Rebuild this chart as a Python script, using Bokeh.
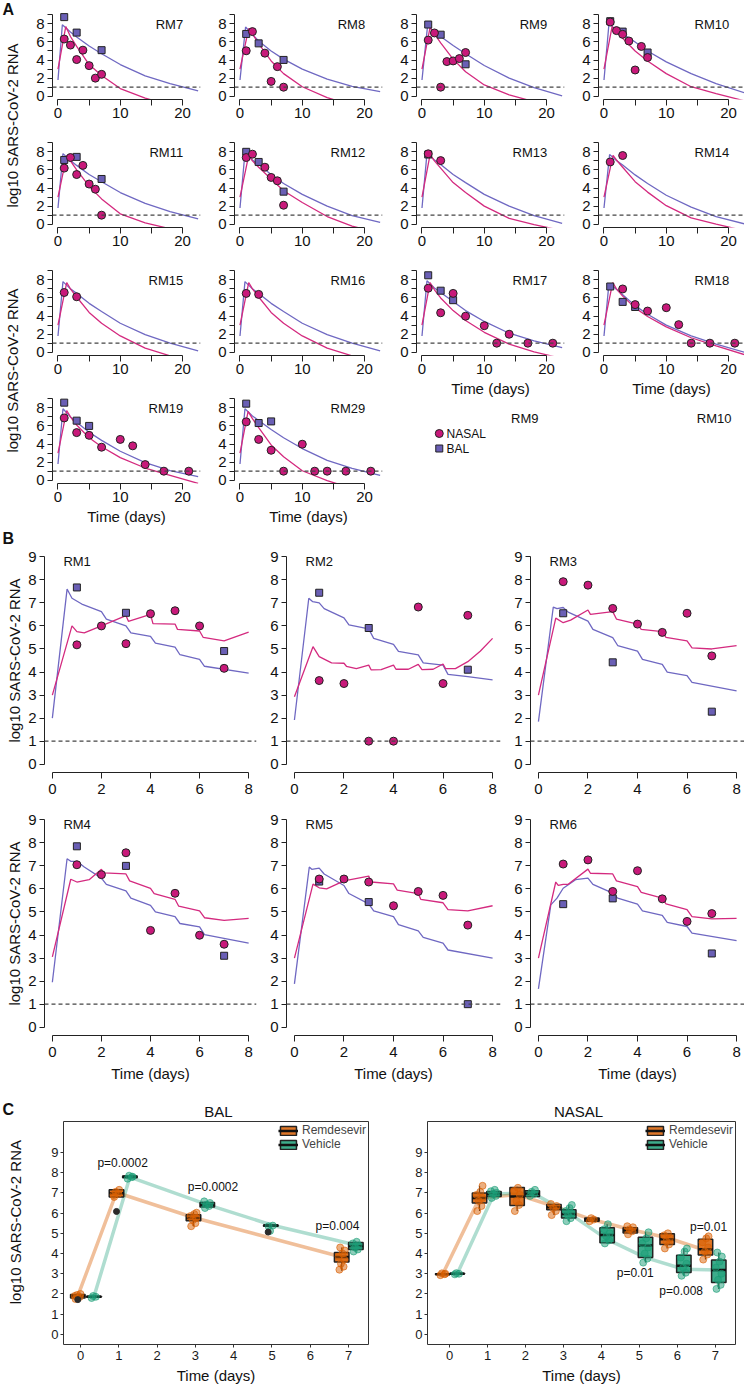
import math
from bokeh.plotting import figure
from bokeh.layouts import row, column
from bokeh.models import Range1d, FixedTicker, Span, Legend, LegendItem
from bokeh.core.properties import value
from bokeh.embed import file_html
from bokeh.resources import INLINE

FONT = "Liberation Sans"
NASAL_FILL = "#C8197A"
BAL_FILL = "#6A5FB5"
NASAL_LINE = "#D42A7F"
BAL_LINE = "#6F68C2"
EDGE = "#222222"
REM = "#D95F02"
VEH = "#1B9E77"

# ---------------- Panel A data ----------------
A_grid = [["RM7", "RM8", "RM9", "RM10"],
          ["RM11", "RM12", "RM13", "RM14"],
          ["RM15", "RM16", "RM17", "RM18"],
          ["RM19", "RM29", None, None]]

A_nasal_days = {
    "RM7": [1, 2, 3, 4, 5, 6, 7], "RM8": [1, 2, 4, 5, 6, 7], "RM9": [1, 2, 3, 4, 5, 6, 7],
    "RM10": [1, 2, 3, 4, 5, 6, 7], "RM11": [1, 2, 3, 4, 5, 6, 7], "RM12": [1, 2, 4, 5, 6, 7],
    "RM13": [1, 3], "RM14": [1, 3], "RM15": [1, 3], "RM16": [1, 3],
    "RM17": [1, 3, 5, 7, 10, 12, 14, 17, 21], "RM18": [3, 5, 7, 10, 12, 14, 17, 21],
    "RM19": [1, 3, 5, 7, 10, 12, 14, 17, 21], "RM29": [1, 3, 5, 7, 10, 12, 14, 17, 21]}
A_nasal_vals = {
    "RM7": [6.32, 5.65, 4.05, 5.09, 3.38, 2.0, 2.42],
    "RM8": [5.02, 7.14, 4.76, 1.64, 3.27, 1.0],
    "RM9": [6.2, 6.99, 1.0, 3.83, 3.9, 4.16, 4.83],
    "RM10": [8.2, 7.25, 6.84, 6.1, 2.9, 5.5, 4.28],
    "RM11": [6.2, 7.37, 5.49, 6.5, 4.44, 3.87, 1.0],
    "RM12": [7.37, 7.74, 6.3, 5.17, 4.8, 2.1],
    "RM13": [7.78, 7.03], "RM14": [6.88, 7.59], "RM15": [6.6, 6.13], "RM16": [6.5, 6.39],
    "RM17": [7.07, 4.36, 6.5, 3.98, 2.93, 1.0, 1.99, 1.0, 1.0],
    "RM18": [6.99, 5.26, 4.55, 4.92, 3.05, 1.0, 1.0, 1.0],
    "RM19": [6.88, 5.26, 4.96, 3.65, 4.51, 3.8, 1.73, 1.0, 1.0],
    "RM29": [6.45, 4.51, 3.31, 1.0, 3.98, 1.0, 1.0, 1.0, 1.0]}
A_bal_days = {
    "RM7": [1, 3, 7], "RM8": [1, 3, 7], "RM9": [1, 3, 7], "RM10": [1, 3, 7],
    "RM11": [1, 3, 7], "RM12": [1, 3, 7], "RM13": [1], "RM14": [], "RM15": [], "RM16": [],
    "RM17": [1, 3, 5], "RM18": [1, 3, 5], "RM19": [1, 3, 5], "RM29": [1, 3, 5]}
A_bal_vals = {
    "RM7": [8.74, 7.03, 5.09], "RM8": [6.88, 5.84, 4.01], "RM9": [7.92, 6.8, 3.53],
    "RM10": [8.29, 7.14, 4.83], "RM11": [7.1, 7.44, 5.0], "RM12": [8.0, 6.88, 3.6],
    "RM13": [7.7], "RM14": [], "RM15": [], "RM16": [],
    "RM17": [8.5, 6.8, 5.75], "RM18": [7.26, 5.56, 5.0], "RM19": [8.57, 6.58, 6.0],
    "RM29": [8.46, 6.32, 6.5]}

A_bal_curve_t = {
    "RM7": [0, 0.7, 2, 3, 5, 7, 10, 14, 18, 22.5], "RM8": [0, 0.9, 2, 3, 5, 7, 10, 14, 18, 22.5],
    "RM9": [0, 0.9, 2, 3, 5, 7, 10, 14, 18, 22.5], "RM10": [0, 0.8, 2, 3, 5, 7, 10, 14, 18, 22.5],
    "RM11": [0, 0.8, 2, 3, 5, 7, 10, 14, 18, 22.5], "RM12": [0, 0.8, 2, 3, 5, 7, 10, 14, 18, 22.5],
    "RM13": [0, 0.8, 2, 3, 5, 7, 10, 14, 18, 22.5], "RM14": [0, 0.9, 2, 3, 5, 7, 10, 14, 18, 22.5],
    "RM15": [0, 0.8, 2, 3, 5, 7, 10, 14, 18, 22.5], "RM16": [0, 0.8, 2, 3, 5, 7, 10, 14, 18, 22.5],
    "RM17": [0, 0.8, 2, 3, 5, 7, 10, 14, 18, 22.5], "RM18": [0, 0.8, 2, 3, 5, 7, 10, 14, 18, 22.5],
    "RM19": [0, 0.8, 2, 3, 5, 7, 10, 14, 18, 22.5], "RM29": [0, 0.8, 2, 3, 5, 7, 10, 14, 18, 22.5]}
A_bal_curve_v = {
    "RM7": [1.8, 7.9, 7.1, 6.55, 5.55, 4.7, 3.5, 2.25, 1.4, 0.6],
    "RM8": [1.8, 7.65, 6.8, 6.1, 5.0, 4.1, 3.0, 1.9, 1.1, 0.5],
    "RM9": [1.8, 7.8, 7.1, 6.6, 5.6, 4.7, 3.4, 2.0, 0.95, 0.05],
    "RM10": [1.8, 8.0, 7.3, 6.9, 6.0, 5.0, 3.8, 2.5, 1.4, 0.4],
    "RM11": [1.8, 7.8, 7.05, 6.5, 5.5, 4.7, 3.5, 2.3, 1.4, 0.6],
    "RM12": [1.8, 7.9, 7.1, 6.6, 5.5, 4.5, 3.3, 2.0, 0.95, 0.2],
    "RM13": [1.8, 7.8, 7.1, 6.6, 5.5, 4.6, 3.3, 2.0, 0.95, 0.1],
    "RM14": [1.8, 7.7, 7.05, 6.55, 5.45, 4.5, 3.2, 1.9, 0.85, 0.05],
    "RM15": [1.8, 7.8, 7.0, 6.5, 5.4, 4.5, 3.2, 1.95, 1.0, 0.15],
    "RM16": [1.8, 7.8, 7.0, 6.5, 5.4, 4.5, 3.2, 1.95, 1.0, 0.15],
    "RM17": [1.8, 7.9, 7.1, 6.6, 5.6, 4.6, 3.4, 2.1, 1.25, 0.5],
    "RM18": [1.8, 7.6, 6.95, 6.35, 5.15, 4.2, 3.0, 1.8, 0.9, 0.0],
    "RM19": [1.8, 7.9, 7.0, 6.4, 5.3, 4.4, 3.2, 1.95, 1.05, 0.4],
    "RM29": [1.8, 7.9, 7.1, 6.6, 5.6, 4.7, 3.5, 2.2, 1.3, 0.55]}
A_nasal_curve_t = {
    "RM7": [0, 1.25, 2, 3, 5, 7, 10, 14, 18, 22.5], "RM8": [0, 1.4, 2, 3, 5, 7, 10, 14, 18, 22.5],
    "RM9": [0, 1.3, 2, 3, 5, 7, 10, 14, 18, 22.5], "RM10": [0, 1.3, 2, 3, 5, 7, 10, 14, 18, 22.5],
    "RM11": [0, 1.4, 2, 3, 5, 7, 10, 14, 18, 22.5], "RM12": [0, 1.4, 2, 3, 5, 7, 10, 14, 18, 22.5],
    "RM13": [0, 1.3, 2, 3, 5, 7, 10, 14, 18, 22.5], "RM14": [0, 1.45, 2, 3, 5, 7, 10, 14, 18, 22.5],
    "RM15": [0, 1.4, 2, 3, 5, 7, 10, 14, 18, 22.5], "RM16": [0, 1.4, 2, 3, 5, 7, 10, 14, 18, 22.5],
    "RM17": [0, 1.3, 2, 3, 5, 7, 10, 14, 18, 22.5], "RM18": [0, 1.4, 2, 3, 5, 7, 10, 14, 18, 22.5],
    "RM19": [0, 1.4, 2, 3, 5, 7, 10, 14, 18, 22.5], "RM29": [0, 1.3, 2, 3, 5, 7, 10, 14, 18, 22.5]}
A_nasal_curve_v = {
    "RM7": [3.0, 7.7, 6.6, 5.5, 3.5, 2.3, 0.85, -0.2, -1.0, -1.6],
    "RM8": [3.0, 7.5, 6.9, 5.8, 3.9, 2.5, 1.05, -0.15, -1.0, -1.6],
    "RM9": [3.0, 7.6, 6.9, 5.9, 4.1, 2.7, 1.25, 0.15, -0.6, -1.3],
    "RM10": [3.0, 7.7, 7.1, 6.4, 5.0, 3.9, 2.5, 1.05, 0.3, -0.5],
    "RM11": [3.0, 7.6, 7.0, 6.0, 4.2, 2.8, 1.15, 0.15, -0.5, -1.2],
    "RM12": [3.0, 7.6, 7.0, 6.3, 5.0, 3.7, 2.4, 0.85, -0.2, -1.0],
    "RM13": [3.0, 7.7, 7.0, 6.2, 4.6, 3.5, 2.0, 0.65, -0.05, -0.7],
    "RM14": [3.0, 7.6, 7.1, 6.3, 4.7, 3.55, 2.05, 0.7, 0.0, -0.7],
    "RM15": [3.0, 7.7, 7.0, 6.1, 4.4, 3.2, 1.8, 0.45, -0.4, -1.1],
    "RM16": [3.0, 7.7, 7.0, 6.1, 4.4, 3.2, 1.8, 0.45, -0.4, -1.1],
    "RM17": [3.0, 7.7, 6.9, 6.0, 4.6, 3.5, 2.2, 0.9, 0.05, -0.7],
    "RM18": [3.0, 7.7, 7.0, 6.2, 4.9, 3.95, 2.8, 1.6, 0.7, -0.25],
    "RM19": [3.0, 7.7, 7.0, 6.1, 4.7, 3.7, 2.5, 1.35, 0.55, -0.35],
    "RM29": [3.0, 7.6, 6.8, 5.8, 3.9, 2.6, 1.05, -0.05, -0.9, -1.6]}

# ---------------- Panel B data ----------------
B_grid = [["RM1", "RM2", "RM3"], ["RM4", "RM5", "RM6"]]
B_nasal_days = [1, 2, 3, 4, 5, 6, 7]
B_bal_days = [1, 3, 7]
B_nasal_vals = {
    "RM1": [5.18, 6.0, 5.23, 6.53, 6.66, 6.0, 4.16],
    "RM2": [3.63, 3.5, 1.0, 1.0, 6.82, 3.5, 6.46],
    "RM3": [7.92, 7.77, 6.76, 6.08, 5.72, 6.55, 4.7],
    "RM4": [7.05, 6.62, 7.57, 4.2, 5.81, 3.99, 3.6],
    "RM5": [6.43, 6.43, 6.3, 5.27, 5.89, 5.72, 4.43],
    "RM6": [7.08, 7.26, 5.89, 6.79, 5.57, 4.59, 4.93]}
B_bal_vals = {
    "RM1": [7.67, 6.57, 4.91], "RM2": [7.44, 5.91, 4.1], "RM3": [6.55, 4.42, 2.28],
    "RM4": [7.85, 7.0, 3.1], "RM5": [6.32, 5.43, 1.0], "RM6": [5.34, 5.59, 3.2]}
B_bal_curve_t = {
    "RM1": [0, 0.6, 0.8, 1.2, 2.0, 2.2, 3.0, 3.2, 4.0, 4.2, 5.0, 5.2, 6.0, 6.2, 8.0],
    "RM2": [0, 0.58, 0.74, 1.0, 1.2, 2.0, 2.2, 3.0, 3.2, 4.0, 4.2, 5.0, 5.2, 6.0, 6.2, 7.0, 8.0],
    "RM3": [0, 0.6, 0.75, 1.0, 1.2, 2.0, 2.2, 3.0, 3.2, 4.0, 4.2, 5.0, 5.2, 6.0, 6.2, 8.0],
    "RM4": [0, 0.6, 0.75, 1.0, 1.3, 2.0, 2.2, 3.0, 3.2, 4.0, 4.2, 5.0, 5.2, 6.0, 6.2, 8.0],
    "RM5": [0, 0.6, 0.7, 1.0, 1.2, 2.0, 2.2, 3.0, 3.2, 4.0, 4.2, 5.0, 5.2, 6.0, 6.2, 8.0],
    "RM6": [0, 0.5, 0.75, 1.0, 1.5, 2.0, 2.2, 3.0, 3.2, 4.0, 4.2, 5.0, 5.2, 6.0, 6.2, 8.0]}
B_bal_curve_v = {
    "RM1": [2.0, 7.6, 7.2, 6.95, 6.62, 6.3, 6.0, 5.7, 5.55, 5.25, 5.08, 4.75, 4.55, 4.25, 3.95],
    "RM2": [1.92, 7.2, 7.05, 7.0, 6.75, 6.35, 6.05, 5.87, 5.46, 5.2, 4.9, 4.74, 4.4, 4.3, 3.9, 3.8, 3.66],
    "RM3": [1.85, 6.82, 6.75, 6.8, 6.6, 6.21, 5.85, 5.49, 5.15, 4.91, 4.55, 4.33, 4.0, 3.84, 3.55, 3.18],
    "RM4": [1.95, 7.31, 7.2, 7.2, 6.95, 6.47, 6.2, 5.92, 5.6, 5.29, 5.0, 4.8, 4.5, 4.35, 4.02, 3.65],
    "RM5": [1.88, 6.95, 6.85, 6.9, 6.65, 6.15, 5.8, 5.35, 5.05, 4.8, 4.45, 4.18, 3.9, 3.65, 3.35, 3.0],
    "RM6": [1.66, 5.31, 5.6, 6.03, 6.4, 6.47, 6.2, 5.82, 5.6, 5.34, 5.05, 4.85, 4.55, 4.37, 4.08, 3.76]}
B_nasal_curve_t = {
    "RM1": [0, 0.8, 1.0, 1.3, 2.0, 3.0, 3.1, 4.0, 4.1, 5.0, 5.1, 6.0, 6.15, 7.0, 8.0],
    "RM2": [0, 0.75, 1.0, 1.5, 2.0, 2.1, 2.5, 3.0, 3.1, 3.5, 4.0, 4.1, 4.6, 5.0, 5.15, 5.6, 6.0, 6.1,
            6.5, 7.0, 7.5, 8.0],
    "RM3": [0, 0.7, 1.0, 1.3, 2.0, 2.1, 3.0, 3.15, 4.0, 4.15, 5.0, 5.15, 6.0, 6.2, 7.0, 8.0],
    "RM4": [0, 0.75, 1.0, 1.5, 2.0, 2.1, 3.0, 3.15, 4.0, 4.15, 5.0, 5.15, 6.0, 6.2, 7.0, 8.0],
    "RM5": [0, 0.75, 1.0, 1.3, 2.0, 3.0, 3.1, 4.0, 4.15, 5.0, 5.1, 6.0, 6.2, 7.0, 8.0],
    "RM6": [0, 0.7, 0.8, 1.0, 1.2, 2.0, 2.1, 3.0, 3.15, 4.0, 4.15, 5.0, 5.15, 6.0, 6.2, 7.0, 8.0]}
B_nasal_curve_v = {
    "RM1": [3.0, 6.0, 5.75, 5.7, 6.0, 6.45, 6.2, 6.5, 6.1, 6.08, 5.85, 5.78, 5.5, 5.35, 5.73],
    "RM2": [2.93, 5.1, 4.67, 4.4, 4.38, 4.25, 4.15, 4.3, 4.09, 4.1, 4.3, 4.12, 4.12, 4.33, 4.1, 4.12,
            4.35, 4.15, 4.15, 4.45, 4.9, 5.46],
    "RM3": [3.0, 6.34, 6.14, 6.25, 6.69, 6.5, 6.62, 6.3, 6.08, 5.85, 5.75, 5.5, 5.35, 5.05, 5.0, 5.15],
    "RM4": [3.05, 6.42, 6.3, 6.4, 6.85, 6.7, 6.65, 6.35, 6.02, 5.8, 5.55, 5.25, 5.05, 4.75, 4.64, 4.72],
    "RM5": [3.0, 6.21, 6.05, 6.0, 6.35, 6.56, 6.3, 6.22, 5.95, 5.8, 5.55, 5.4, 5.1, 5.05, 5.27],
    "RM6": [3.0, 6.3, 6.15, 6.2, 6.2, 6.86, 6.68, 6.65, 6.35, 6.1, 5.85, 5.6, 5.35, 5.1, 4.8, 4.7, 4.72]}

# ---------------- Panel C data ----------------
C_x_ticks = [0, 1, 2, 3, 4, 5, 6, 7]
BAL_rem_x = [-0.07, 0.94, 2.95, 6.82]
BAL_rem_q1 = [1.8, 6.8, 5.62, 3.58]
BAL_rem_med = [1.9, 6.98, 5.76, 3.83]
BAL_rem_q3 = [1.97, 7.15, 5.92, 4.05]
BAL_rem_lo = [1.72, 6.75, 5.35, 3.15]
BAL_rem_hi = [2.02, 7.2, 6.05, 4.3]
BAL_rem_pts = [[1.75, 1.85, 1.95, 2.0, 1.9], [6.8, 6.95, 7.05, 7.15, 6.9],
               [5.35, 5.5, 5.65, 5.75, 5.85, 5.95, 6.02], [3.2, 3.35, 3.5, 3.7, 3.85, 4.0, 4.15, 4.3]]
BAL_rem_out_x = [-0.07, 0.94]
BAL_rem_out_y = [1.72, 6.08]
BAL_rem_line_x = [-0.07, 0.94, 2.95, 6.82]
BAL_rem_line_y = [1.9, 7.02, 5.78, 3.83]

BAL_veh_x = [0.35, 1.29, 3.31, 4.97, 7.19]
BAL_veh_q1 = [1.84, 7.75, 6.3, 5.35, 4.2]
BAL_veh_med = [1.86, 7.8, 6.4, 5.38, 4.37]
BAL_veh_q3 = [1.89, 7.84, 6.52, 5.41, 4.55]
BAL_veh_lo = [1.8, 7.7, 6.25, 5.3, 4.1]
BAL_veh_hi = [1.92, 7.88, 6.58, 5.42, 4.6]
BAL_veh_pts = [[1.8, 1.86, 1.9], [7.7, 7.78, 7.85, 7.8], [6.25, 6.35, 6.42, 6.5, 6.58],
               [5.35, 5.38, 5.12], [4.1, 4.2, 4.3, 4.4, 4.5, 4.58]]
BAL_veh_out_x = [4.9]
BAL_veh_out_y = [5.06]
BAL_veh_line_x = [0.35, 1.29, 3.31, 5.01, 7.19]
BAL_veh_line_y = [1.86, 7.78, 6.42, 5.4, 4.42]
BAL_p_x = [1.1, 3.46, 6.71]
BAL_p_y = [8.47, 7.27, 5.34]
BAL_p_text = ["p=0.0002", "p=0.0002", "p=0.004"]

NAS_rem_x = [-0.18, 0.79, 1.78, 2.75, 3.75, 4.76, 5.73, 6.74]
NAS_rem_q1 = [2.96, 6.5, 6.38, 6.17, 5.6, 5.02, 4.45, 3.93]
NAS_rem_med = [2.98, 6.74, 6.82, 6.29, 5.68, 5.14, 4.7, 4.21]
NAS_rem_q3 = [3.0, 6.99, 7.27, 6.42, 5.76, 5.27, 4.98, 4.7]
NAS_rem_lo = [2.93, 6.1, 6.1, 5.9, 5.58, 4.95, 4.25, 3.7]
NAS_rem_hi = [3.03, 7.35, 7.3, 6.45, 5.78, 5.35, 5.0, 4.85]
NAS_rem_pts = [[2.93, 2.98, 3.02, 3.0], [6.1, 6.35, 6.6, 6.75, 6.9, 7.05, 7.35],
               [6.1, 6.4, 6.6, 6.9, 7.1, 7.25], [5.9, 6.1, 6.25, 6.35, 6.45], [5.6, 5.68, 5.75],
               [4.95, 5.1, 5.2, 5.3, 5.35], [4.25, 4.45, 4.6, 4.75, 4.9, 5.0],
               [3.7, 3.95, 4.1, 4.3, 4.55, 4.75, 4.85]]
NAS_rem_line_x = [-0.18, 0.79, 1.78, 2.75, 3.75, 4.76, 5.73, 6.74]
NAS_rem_line_y = [2.98, 6.74, 6.92, 6.33, 5.68, 5.19, 4.78, 4.16]

NAS_veh_x = [0.2, 1.17, 2.18, 3.14, 4.15, 5.16, 6.17, 7.09]
NAS_veh_q1 = [2.98, 6.82, 6.82, 5.76, 4.53, 3.8, 3.06, 2.57]
NAS_veh_med = [3.0, 6.94, 6.96, 5.96, 4.91, 4.4, 3.39, 3.18]
NAS_veh_q3 = [3.02, 7.07, 7.1, 6.17, 5.27, 4.81, 3.91, 3.68]
NAS_veh_lo = [2.96, 6.75, 6.85, 5.6, 4.5, 3.55, 2.9, 2.25]
NAS_veh_hi = [3.04, 7.15, 7.15, 6.4, 5.45, 5.05, 4.25, 4.05]
NAS_veh_pts = [[2.97, 3.0, 3.03], [6.75, 6.85, 6.95, 7.0, 7.08, 7.15], [6.85, 6.95, 7.05, 7.15],
               [5.6, 5.75, 5.9, 6.0, 6.1, 6.25, 6.4], [4.5, 4.65, 4.85, 5.0, 5.2, 5.45],
               [3.55, 3.75, 4.0, 4.3, 4.5, 4.75, 5.05], [2.9, 3.05, 3.3, 3.5, 3.8, 4.1, 4.25],
               [2.25, 2.45, 2.7, 3.0, 3.3, 3.6, 3.85, 4.05]]
NAS_veh_line_x = [0.2, 1.17, 2.18, 3.14, 4.15, 5.16, 6.17, 7.09]
NAS_veh_line_y = [2.98, 6.94, 7.0, 6.0, 4.7, 3.8, 3.22, 3.18]
NAS_p_x = [6.82, 4.89, 6.1]
NAS_p_y = [5.32, 3.06, 2.16]
NAS_p_text = ["p=0.01", "p=0.01", "p=0.008"]

JIT = [-0.06, 0.05, -0.02, 0.07, -0.08, 0.02, 0.08, -0.04, 0.0]


# ---------------- helpers ----------------
def blank(w, h):
    p = figure(width=w, height=h, x_range=Range1d(0, w), y_range=Range1d(0, h),
               x_axis_location=None, y_axis_location=None, min_border=0,
               toolbar_location=None, output_backend="svg")
    p.grid.visible = False
    p.outline_line_color = None
    return p


def txt(p, x, y, s, size, align="left", baseline="middle", angle=0.0, bold=False, color="#111111"):
    p.text(x=[x], y=[y], text=[s], text_font=value(FONT), text_font_size=size,
           text_align=align, text_baseline=baseline, angle=angle, text_color=color,
           text_font_style="bold" if bold else "normal")


def style_axis(ax, ticks, minor, bounds, tick_len, standoff, size):
    ax.ticker = FixedTicker(ticks=ticks, minor_ticks=minor)
    ax.bounds = bounds
    ax.major_tick_out = tick_len
    ax.major_tick_in = 0
    ax.minor_tick_out = tick_len
    ax.minor_tick_in = 0
    ax.axis_line_color = EDGE
    ax.major_tick_line_color = EDGE
    ax.minor_tick_line_color = EDGE
    ax.major_label_text_font = FONT
    ax.major_label_text_font_size = size
    ax.major_label_text_color = "#111111"
    ax.major_label_standoff = standoff
    ax.axis_label_text_font = FONT
    ax.axis_label_text_font_style = "normal"
    ax.axis_label_text_color = "#111111"


A_SCALE = 148 / 23.76


def a_panel(name, col, bt, bb, xlabel):
    fw = 148 if col < 3 else 146
    bl, br, fh = 22, (12 if col < 3 else 0), 88
    p = figure(width=bl + fw + br, height=bt + fh + bb,
               x_range=Range1d(-0.88, -0.88 + fw / A_SCALE), y_range=Range1d(-0.36, 9.36),
               min_border_left=bl, min_border_right=br, min_border_top=bt, min_border_bottom=bb,
               toolbar_location=None, output_backend="svg")
    p.grid.visible = False
    p.outline_line_color = None
    style_axis(p.xaxis[0], [0, 10, 20], [5, 15], (0, 20), 6, 2, "15px")
    style_axis(p.yaxis[0], [0, 2, 4, 6, 8], [1, 3, 5, 7, 9], (0, 9), 5, 3, "15px")
    if xlabel:
        p.xaxis.axis_label = "Time (days)"
        p.xaxis.axis_label_text_font_size = "15px"
        p.xaxis.axis_label_standoff = 3
    p.add_layout(Span(location=1, dimension="width", line_dash="4 3", line_color="#444444",
                      line_width=1.2))
    p.line(A_bal_curve_t[name], A_bal_curve_v[name], line_color=BAL_LINE, line_width=1.3)
    p.line(A_nasal_curve_t[name], A_nasal_curve_v[name], line_color=NASAL_LINE, line_width=1.3)
    p.scatter(A_bal_days[name], A_bal_vals[name], marker="square", size=7, fill_color=BAL_FILL,
              line_color=EDGE, line_width=1)
    p.scatter(A_nasal_days[name], A_nasal_vals[name], marker="circle", size=8,
              fill_color=NASAL_FILL, line_color=EDGE, line_width=1)
    txt(p, 20.1, 7.9, name, "13px", align="right")
    return p


def b_panel(name, col, rowi):
    bl = [17, 22, 22][col]
    br = [8, 8, 0][col]
    bt = [18, 11][rowi]
    bb = [28, 60][rowi]
    fw, fh = 214, 224
    p = figure(width=bl + fw + br, height=bt + fh + bb,
               x_range=Range1d(-0.32, 8.32), y_range=Range1d(-0.36, 9.36),
               min_border_left=bl, min_border_right=br, min_border_top=bt, min_border_bottom=bb,
               toolbar_location=None, output_backend="svg")
    p.grid.visible = False
    p.outline_line_color = None
    style_axis(p.xaxis[0], [0, 2, 4, 6, 8], [], (0, 8), 6, 5, "15px")
    style_axis(p.yaxis[0], list(range(10)), [], (0, 9), 5, 3, "15px")
    if rowi == 1:
        p.xaxis.axis_label = "Time (days)"
        p.xaxis.axis_label_text_font_size = "15px"
        p.xaxis.axis_label_standoff = 5
    p.add_layout(Span(location=1, dimension="width", line_dash="4 3", line_color="#444444",
                      line_width=1.2))
    p.line(B_bal_curve_t[name], B_bal_curve_v[name], line_color=BAL_LINE, line_width=1.3)
    p.line(B_nasal_curve_t[name], B_nasal_curve_v[name], line_color=NASAL_LINE, line_width=1.3)
    p.scatter(B_bal_days, B_bal_vals[name], marker="square", size=7, fill_color=BAL_FILL,
              line_color=EDGE, line_width=1)
    p.scatter(B_nasal_days, B_nasal_vals[name], marker="circle", size=8, fill_color=NASAL_FILL,
              line_color=EDGE, line_width=1)
    txt(p, 0.45, 8.8, name, "13px", align="left")
    return p


BOXW = 0.38


def draw_groups(p, xs, q1, med, q3, lo, hi, pts, color):
    p.segment(x0=xs, y0=lo, x1=xs, y1=q1, line_color=EDGE, line_width=1.2)
    p.segment(x0=xs, y0=q3, x1=xs, y1=hi, line_color=EDGE, line_width=1.2)
    box = p.vbar(x=xs, width=BOXW, bottom=q1, top=q3, fill_color=color, fill_alpha=0.85,
                 line_color=EDGE, line_width=1.5)
    med_r = p.segment(x0=[x - BOXW / 2 for x in xs], y0=med, x1=[x + BOXW / 2 for x in xs],
                      y1=med, line_color="#111111", line_width=2.5)
    px, py = [], []
    for x, ys in zip(xs, pts):
        for i, y in enumerate(ys):
            px.append(x + JIT[i % len(JIT)])
            py.append(y)
    p.scatter(px, py, marker="circle", size=7, fill_color=color, fill_alpha=0.5,
              line_color=color, line_alpha=0.6)
    return box, med_r


def c_panel(xr, bl, fw, br, rem, veh, lines, outs, ptxt):
    p = figure(width=bl + fw + br, height=1 + 223 + 42,
               x_range=Range1d(*xr), y_range=Range1d(-0.5, 10.53),
               min_border_left=bl, min_border_right=br, min_border_top=1, min_border_bottom=42,
               toolbar_location=None, output_backend="svg")
    p.grid.visible = False
    p.outline_line_color = "#333333"
    p.outline_line_width = 1
    style_axis(p.xaxis[0], C_x_ticks, [], "auto", 3, 3, "13px")
    style_axis(p.yaxis[0], list(range(10)), [], "auto", 3, 2, "13px")
    for ax in (p.xaxis[0], p.yaxis[0]):
        ax.axis_line_color = None
        ax.major_tick_line_color = "#333333"
        ax.major_label_text_color = "#1a1a1a"
    p.xaxis.axis_label = "Time (days)"
    p.xaxis.axis_label_text_font_size = "15px"
    p.xaxis.axis_label_standoff = 4
    (rlx, rly), (vlx, vly) = lines
    p.line(rlx, rly, line_color=REM, line_alpha=0.4, line_width=3.5)
    p.line(vlx, vly, line_color=VEH, line_alpha=0.35, line_width=3.5)
    rb, rm = draw_groups(p, *rem, REM)
    vb, vm = draw_groups(p, *veh, VEH)
    for ox, oy in outs:
        if ox:
            p.scatter(ox, oy, marker="circle", size=6, fill_color="#2a2a2a", line_color="#2a2a2a")
    tx, ty, tt = ptxt
    p.text(x=tx, y=ty, text=tt, text_font=value(FONT), text_font_size="12px",
           text_align="center", text_baseline="middle", text_color="#111111")
    leg = Legend(items=[LegendItem(label="Remdesevir", renderers=[rb, rm]),
                        LegendItem(label="Vehicle", renderers=[vb, vm])],
                 location="top_right", margin=2, padding=0, spacing=0,
                 glyph_width=20, glyph_height=11, label_height=11, label_standoff=4,
                 label_text_font=FONT, label_text_font_size="12px",
                 border_line_color=None, background_fill_alpha=0)
    p.add_layout(leg, "center")
    return p


# ---------------- Panel A layout (page y 0..530) ----------------
A_H = 530
a_strip = blank(30, A_H)
txt(a_strip, 2, A_H - 9, "A", "16px", bold=True)
txt(a_strip, 12, A_H - 125, "log10 SARS-CoV-2 RNA", "15px", align="center", angle=math.pi / 2)
txt(a_strip, 12, A_H - 370, "log10 SARS-CoV-2 RNA", "15px", align="center", angle=math.pi / 2)

a_cols = []
for c in range(4):
    cells = []
    for r in range(4):
        name = A_grid[r][c]
        if name is None:
            w = 182 if c < 3 else 168
            lg = blank(w, 120)
            if c == 2:
                txt(lg, 150, 112, "RM9", "13px", align="right")
                lg.scatter([28], [97], marker="circle", size=8, fill_color=NASAL_FILL,
                           line_color=EDGE)
                lg.scatter([28], [82], marker="square", size=7, fill_color=BAL_FILL,
                           line_color=EDGE)
                txt(lg, 37, 97, "NASAL", "12px")
                txt(lg, 37, 82, "BAL", "12px")
            else:
                txt(lg, 153, 112, "RM10", "13px", align="right")
            cells.append(lg)
            break
        bt = 11 if r == 0 else 3
        if r == 3:
            cells.append(a_panel(name, c, bt, 47, True))
        elif r == 2 and c >= 2:
            cells.append(a_panel(name, c, bt, 55, True))
        else:
            cells.append(a_panel(name, c, bt, 37, False))
    a_cols.append(column(*cells))
A_block = row(a_strip, *a_cols)

# ---------------- Panel B layout (page y 530..1095) ----------------
B_H = 565
b_strip = blank(25, B_H)
txt(b_strip, 2, B_H - (538 - 530), "B", "16px", bold=True)
txt(b_strip, 14, B_H - (660 - 530), "log10 SARS-CoV-2 RNA", "15px", align="center", angle=math.pi / 2)
txt(b_strip, 14, B_H - (923 - 530), "log10 SARS-CoV-2 RNA", "15px", align="center", angle=math.pi / 2)
b_rows = [row(*[b_panel(B_grid[r][c], c, r) for c in range(3)]) for r in range(2)]
B_block = row(b_strip, column(*b_rows))

# ---------------- Panel C layout (page y 1095..1386) ----------------
c_head = blank(744, 25)
txt(c_head, 2, 25 - (1109 - 1095), "C", "16px", bold=True)
txt(c_head, 218, 0.5, "BAL", "15px", align="center", baseline="bottom")
txt(c_head, 578, 0.5, "NASAL", "15px", align="center", baseline="bottom")

c_strip = blank(28, 266)
txt(c_strip, 15, 266 - (1240 - 1120), "log10 SARS-CoV-2 RNA", "15px", align="center",
    angle=math.pi / 2)

bal = c_panel((-0.444, 7.52), 35, 305, 12,
              (BAL_rem_x, BAL_rem_q1, BAL_rem_med, BAL_rem_q3, BAL_rem_lo, BAL_rem_hi, BAL_rem_pts),
              (BAL_veh_x, BAL_veh_q1, BAL_veh_med, BAL_veh_q3, BAL_veh_lo, BAL_veh_hi, BAL_veh_pts),
              ((BAL_rem_line_x, BAL_rem_line_y), (BAL_veh_line_x, BAL_veh_line_y)),
              [(BAL_rem_out_x, BAL_rem_out_y), (BAL_veh_out_x, BAL_veh_out_y)],
              (BAL_p_x, BAL_p_y, BAL_p_text))
nas = c_panel((-0.58, 7.53), 47, 308, 9,
              (NAS_rem_x, NAS_rem_q1, NAS_rem_med, NAS_rem_q3, NAS_rem_lo, NAS_rem_hi, NAS_rem_pts),
              (NAS_veh_x, NAS_veh_q1, NAS_veh_med, NAS_veh_q3, NAS_veh_lo, NAS_veh_hi, NAS_veh_pts),
              ((NAS_rem_line_x, NAS_rem_line_y), (NAS_veh_line_x, NAS_veh_line_y)),
              [([], [])],
              (NAS_p_x, NAS_p_y, NAS_p_text))
C_block = column(c_head, row(c_strip, bal, nas))

layout = column(A_block, B_block, C_block)
open("out.html", "w").write(file_html(layout, INLINE))
